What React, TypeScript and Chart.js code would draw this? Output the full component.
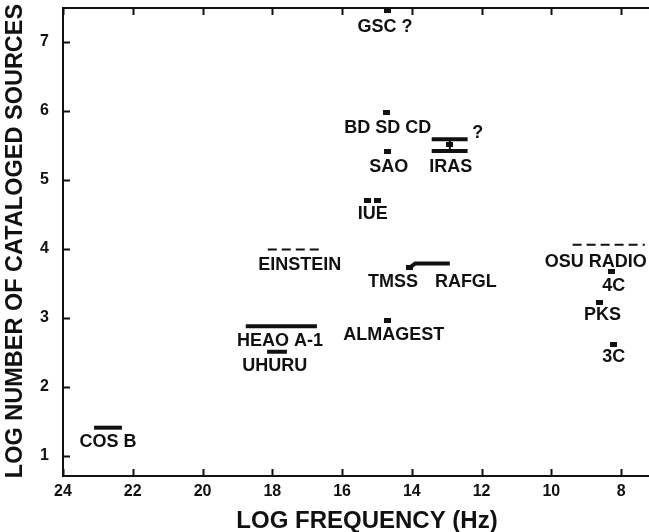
import React, { useEffect, useRef } from 'react';
import { Chart, registerables } from 'chart.js';

Chart.register(...registerables);

// ---- axes ----
const xTickValues = [24, 22, 20, 18, 16, 14, 12, 10, 8];
const yTickValues = [1, 2, 3, 4, 5, 6, 7];
const xMin = 7.2;
const xMax = 24.0;
const yMin = 0.71;
const yMax = 7.49;
const xTitle = 'LOG FREQUENCY (Hz)';
const yTitle = 'LOG NUMBER OF CATALOGED SOURCES';

// ---- solid bars (frequency range at a catalog size) ----
const barNames = ['COS B', 'HEAO A-1', 'UHURU', 'IRAS (upper)', 'IRAS (lower)'];
const barFrom = [23.11, 18.76, 18.15, 13.43, 13.43];
const barTo = [22.31, 16.72, 17.58, 12.4, 12.4];
const barLevel = [1.41, 2.88, 2.51, 5.59, 5.42];

// ---- dashed bars (uncertain) ----
const dashedNames = ['EINSTEIN', 'OSU RADIO'];
const dashedFrom = [18.13, 9.39];
const dashedTo = [16.64, 7.32];
const dashedLevel = [3.99, 4.06];

// ---- TMSS / RAFGL track ----
const trackFreq = [14.06, 13.9, 12.91];
const trackLevel = [3.73, 3.79, 3.79];

// ---- IRAS range connector ----
const irasLinkFreq = [12.91, 12.91];
const irasLinkLevel = [5.59, 5.42];

// ---- single catalogs (dots) ----
const dotNames = ['BD SD CD', 'SAO', 'IUE a', 'IUE b', 'ALMAGEST', '4C', 'PKS', '3C', 'TMSS', 'IRAS mid'];
const dotFreq = [14.72, 14.69, 15.26, 14.97, 14.69, 8.27, 8.61, 8.21, 14.06, 12.91];
const dotLevel = [5.97, 5.41, 4.7, 4.7, 2.97, 3.67, 3.22, 2.62, 3.73, 5.51];

const gscFreq = [14.69];
const gscLevel = [7.46];

// ---- text labels ----
const labelTexts = ['GSC ?', 'BD SD CD', 'SAO', 'IRAS', '?', 'IUE', 'EINSTEIN', 'TMSS', 'RAFGL', 'OSU RADIO', '4C', 'PKS', '3C', 'HEAO A-1', 'UHURU', 'ALMAGEST', 'COS B'];
const labelFreq = [14.77, 14.69, 14.66, 12.88, 12.11, 15.12, 17.21, 14.54, 12.45, 8.73, 8.21, 8.53, 8.21, 17.78, 17.93, 14.52, 22.71];
const labelLevel = [7.22, 5.75, 5.19, 5.19, 5.68, 4.51, 3.77, 3.52, 3.52, 3.81, 3.46, 3.04, 2.43, 2.67, 2.3, 2.75, 1.2];

const INK = '#111';
const FONT = '"Liberation Sans", Arial, Helvetica, sans-serif';

function makeMark(w: number, h: number): HTMLCanvasElement {
  const c = document.createElement('canvas');
  c.width = w;
  c.height = h;
  const g = c.getContext('2d')!;
  g.fillStyle = INK;
  g.fillRect(0, 0, w, h);
  return c;
}

const framePlugin = {
  id: 'frameAndLabels',
  afterDraw(chart: any) {
    const { ctx, chartArea, scales } = chart;
    const xs = scales.x;
    const ys = scales.y;
    const { left, right, top, bottom } = chartArea;
    ctx.save();
    ctx.strokeStyle = INK;
    ctx.lineWidth = 2;
    ctx.beginPath();
    ctx.moveTo(right, top);
    ctx.lineTo(left, top);
    ctx.lineTo(left, bottom);
    ctx.lineTo(right, bottom);
    ctx.stroke();
    const tl = 7;
    ctx.beginPath();
    for (const v of xTickValues) {
      const px = Math.round(xs.getPixelForValue(v)) + 0.5;
      ctx.moveTo(px, bottom);
      ctx.lineTo(px, bottom - tl);
      ctx.moveTo(px, top);
      ctx.lineTo(px, top + tl);
    }
    for (const v of yTickValues) {
      const py = Math.round(ys.getPixelForValue(v)) + 0.5;
      ctx.moveTo(left, py);
      ctx.lineTo(left + tl, py);
    }
    ctx.stroke();

    ctx.fillStyle = INK;
    ctx.textAlign = 'center';
    ctx.textBaseline = 'middle';
    ctx.font = `bold 18px ${FONT}`;
    labelTexts.forEach((t, i) => {
      ctx.fillText(t, xs.getPixelForValue(labelFreq[i]), ys.getPixelForValue(labelLevel[i]));
    });

    ctx.font = `bold 24px ${FONT}`;
    ctx.fillText(xTitle, 367, 521);
    ctx.translate(16, 241);
    ctx.rotate(-Math.PI / 2);
    ctx.font = `bold 23.5px ${FONT}`;
    ctx.fillText(yTitle, 0, 0);
    ctx.restore();
  },
};

export default function App() {
  const ref = useRef<HTMLCanvasElement | null>(null);

  useEffect(() => {
    if (!ref.current) return;
    const dotImg = makeMark(7, 5);
    const gscImg = makeMark(7, 6);

    const datasets: any[] = [];
    barNames.forEach((n, i) => {
      datasets.push({
        label: n,
        data: [
          { x: barFrom[i], y: barLevel[i] },
          { x: barTo[i], y: barLevel[i] },
        ],
        borderColor: INK,
        borderWidth: 4,
        pointRadius: 0,
        showLine: true,
      });
    });
    dashedNames.forEach((n, i) => {
      datasets.push({
        label: n,
        data: [
          { x: dashedFrom[i], y: dashedLevel[i] },
          { x: dashedTo[i], y: dashedLevel[i] },
        ],
        borderColor: INK,
        borderWidth: 2,
        borderDash: [9, 5],
        pointRadius: 0,
        showLine: true,
      });
    });
    datasets.push({
      label: 'TMSS/RAFGL',
      data: trackFreq.map((f, i) => ({ x: f, y: trackLevel[i] })),
      borderColor: INK,
      borderWidth: 4,
      pointRadius: 0,
      showLine: true,
    });
    datasets.push({
      label: 'IRAS link',
      data: irasLinkFreq.map((f, i) => ({ x: f, y: irasLinkLevel[i] })),
      borderColor: INK,
      borderWidth: 2,
      pointRadius: 0,
      showLine: true,
    });
    datasets.push({
      label: 'dots',
      data: dotFreq.map((f, i) => ({ x: f, y: dotLevel[i] })),
      showLine: false,
      pointStyle: dotImg,
      pointRadius: 4,
    });
    datasets.push({
      label: 'GSC',
      data: gscFreq.map((f, i) => ({ x: f, y: gscLevel[i] })),
      showLine: false,
      pointStyle: gscImg,
      pointRadius: 4,
    });

    const chart = new Chart(ref.current, {
      type: 'scatter',
      data: { datasets },
      options: {
        animation: false,
        responsive: false,
        events: [],
        layout: { autoPadding: false, padding: { top: 8, right: 0, left: 0, bottom: 0 } },
        plugins: {
          legend: { display: false },
          tooltip: { enabled: false },
        },
        scales: {
          x: {
            type: 'linear',
            reverse: true,
            min: xMin,
            max: xMax,
            grid: { display: false, drawTicks: false },
            border: { display: false },
            afterBuildTicks: (s: any) => {
              s.ticks = xTickValues.map((v) => ({ value: v }));
            },
            afterFit: (s: any) => {
              s.height = 56;
              s.paddingLeft = 0;
              s.paddingRight = 0;
            },
            ticks: {
              color: INK,
              padding: 6,
              maxRotation: 0,
              autoSkip: false,
              font: { family: FONT, size: 16, weight: 'bold' },
            },
          },
          y: {
            type: 'linear',
            min: yMin,
            max: yMax,
            grid: { display: false, drawTicks: false },
            border: { display: false },
            afterBuildTicks: (s: any) => {
              s.ticks = yTickValues.map((v) => ({ value: v }));
            },
            afterFit: (s: any) => {
              s.width = 63;
              s.paddingTop = 0;
              s.paddingBottom = 0;
            },
            ticks: {
              color: INK,
              padding: 14,
              autoSkip: false,
              font: { family: FONT, size: 16, weight: 'bold' },
            },
          },
        },
      } as any,
      plugins: [framePlugin],
    });
    return () => chart.destroy();
  }, []);

  return (
    <div style={{ position: 'fixed', left: 0, top: 0, width: 649, height: 532, background: '#fff' }}>
      <canvas ref={ref} width={649} height={532} style={{ display: 'block' }} />
    </div>
  );
}
